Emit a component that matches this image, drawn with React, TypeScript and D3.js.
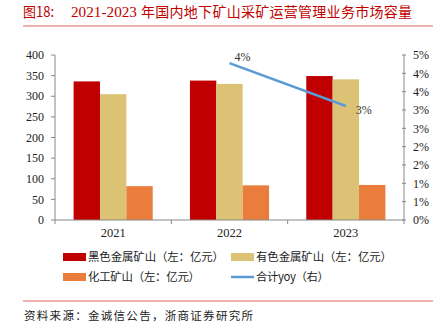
import React from "react";
import * as d3 from "d3";

const years = ["2021", "2022", "2023"];
const ferrous = [336, 338, 349];
const nonferrous = [305, 330, 341];
const chemical = [82, 84, 85];
const yoyYears = ["2022", "2023"];
const yoy = [4.28, 3.11];
const yoyLabels = ["4%", "3%"];
const leftTicks = [0, 50, 100, 150, 200, 250, 300, 350, 400];
const rightTicks = [0, 0.5, 1, 1.5, 2, 2.5, 3, 3.5, 4, 4.5];
const seriesNames = ["黑色金属矿山（左：亿元）", "有色金属矿山（左：亿元）", "化工矿山（左：亿元）", "合计yoy（右）"];
const colors = ["#C00000", "#DCC274", "#EB7D3C", "#5B9BD5"];

const W = 445, H = 332;
const plot = { left: 55, right: 404, top: 55, bottom: 220 };
const serif = "'Liberation Serif', 'Times New Roman', serif";
const cjk = "'Noto Sans CJK SC', sans-serif";
const legendLen = [136, 136, 112, 73];

export default function App() {
  const x = d3.scaleBand().domain(years).range([plot.left, plot.right]).paddingInner(0.32).paddingOuter(0.16);
  const xSub = d3.scaleBand().domain(["0", "1", "2"]).range([0, x.bandwidth()]);
  const yL = d3.scaleLinear().domain([0, 400]).range([plot.bottom, plot.top]);
  const yR = d3.scaleLinear().domain([0, 4.5]).range([plot.bottom, plot.top]);
  const xCat = d3.scaleBand().domain(years).range([plot.left, plot.right]);
  const series = [ferrous, nonferrous, chemical];
  const line = d3.line<number>()
    .x((_, i) => (xCat(yoyYears[i]) as number) + xCat.bandwidth() / 2)
    .y((d) => yR(d));
  const catBounds = [plot.left, ...years.map((y) => (xCat(y) as number) + xCat.bandwidth())];

  return (
    <svg width={W} height={H} style={{ position: "absolute", left: 0, top: 0, background: "#fff" }}>
      <text x={23} y={17} fontFamily={cjk} fontSize={14} fill="#C00000" textLength={31} lengthAdjust="spacingAndGlyphs">图18:</text>
      <text x={71} y={17} fontFamily={serif} fontSize={14.5} fill="#C00000" textLength={66} lengthAdjust="spacingAndGlyphs">2021-2023</text>
      <text x={141} y={17} fontFamily={cjk} fontSize={14} fill="#C00000" textLength={271} lengthAdjust="spacing">年国内地下矿山采矿运营管理业务市场容量</text>
      <line x1={23} x2={433} y1={26} y2={26} stroke="#E06060" strokeWidth={1} />

      {series.map((vals, si) =>
        vals.map((v, i) => (
          <rect key={`${si}-${i}`}
            x={(x(years[i]) as number) + (xSub(String(si)) as number)}
            y={yL(v)} width={xSub.bandwidth()} height={plot.bottom - yL(v)}
            fill={colors[si]} />
        ))
      )}

      {/* left axis */}
      <line x1={plot.left} x2={plot.left} y1={plot.top} y2={plot.bottom} stroke="#888" />
      {leftTicks.map((t) => (
        <g key={t}>
          <line x1={plot.left - 4} x2={plot.left} y1={yL(t)} y2={yL(t)} stroke="#888" />
          <text x={44} y={yL(t)} dy="0.35em" textAnchor="end" fontFamily={serif} fontSize={12} fill="#222">{t}</text>
        </g>
      ))}
      {/* right axis */}
      <line x1={plot.right} x2={plot.right} y1={plot.top} y2={plot.bottom} stroke="#888" />
      {rightTicks.map((t) => (
        <g key={t}>
          <line x1={plot.right - 2} x2={plot.right + 2} y1={yR(t)} y2={yR(t)} stroke="#888" />
          <text x={413} y={yR(t)} dy="0.35em" textAnchor="start" fontFamily={serif} fontSize={12} fill="#222">{d3.format(".0f")(t + 1e-9) + "%"}</text>
        </g>
      ))}
      {/* bottom axis */}
      <line x1={plot.left} x2={plot.right} y1={plot.bottom} y2={plot.bottom} stroke="#888" />
      {catBounds.map((b, i) => (
        <line key={i} x1={b} x2={b} y1={plot.bottom} y2={plot.bottom + 4} stroke="#888" />
      ))}
      {years.map((y) => (
        <text key={y} x={(xCat(y) as number) + xCat.bandwidth() / 2} y={237} textAnchor="middle" fontFamily={serif} fontSize={12.5} fill="#222">{y}</text>
      ))}

      <path d={line(yoy) || ""} fill="none" stroke={colors[3]} strokeWidth={2.5} />
      {yoy.map((v, i) => (
        <text key={i}
          x={(xCat(yoyYears[i]) as number) + xCat.bandwidth() / 2 + (i === 0 ? 5 : 10)}
          y={yR(v) + (i === 0 ? -6 : 4)} dy="0.35em" fontFamily={serif} fontSize={12} fill="#333">{yoyLabels[i]}</text>
      ))}

      {/* legend */}
      {seriesNames.map((n, i) => {
        const lx = i % 2 === 0 ? 63 : 231;
        const ly = i < 2 ? 257 : 277;
        return (
          <g key={n}>
            {i < 3 ? (
              <rect x={lx} y={ly - 4} width={23} height={8} fill={colors[i]} />
            ) : (
              <line x1={lx} x2={lx + 23} y1={ly} y2={ly} stroke={colors[i]} strokeWidth={2.5} />
            )}
            <text x={lx + 25} y={ly} dy="0.35em" fontFamily={cjk} fontSize={11.4} fill="#222" textLength={legendLen[i]} lengthAdjust="spacing">{n}</text>
          </g>
        );
      })}

      <line x1={23} x2={433} y1={301} y2={301} stroke="#E06060" strokeWidth={1} />
      <text x={24} y={316} dy="0.35em" fontFamily={cjk} fontSize={11.5} fill="#222" textLength={229} lengthAdjust="spacing">资料来源：金诚信公告，浙商证券研究所</text>
    </svg>
  );
}
